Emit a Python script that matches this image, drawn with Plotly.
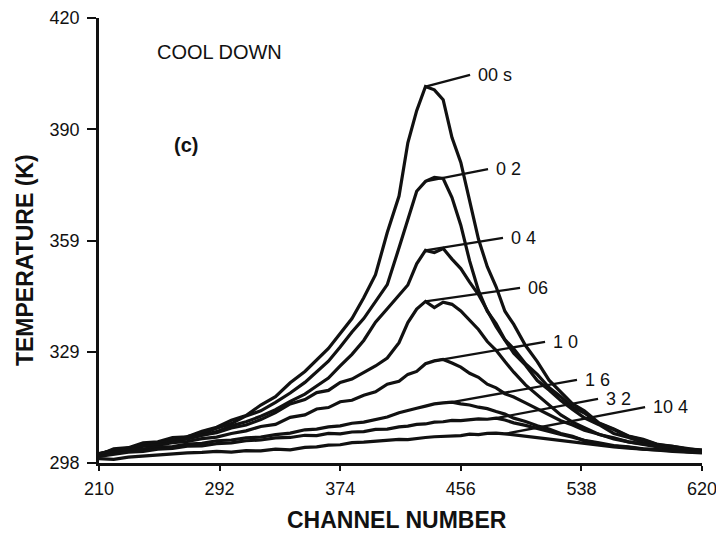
import plotly.graph_objects as go

# Channel grid shared by all curves
channel = [210, 220, 230, 240, 250, 260, 270, 280, 290, 300, 310, 320, 330, 340, 350,
           358, 366, 374, 382, 390, 398, 406, 414,
           420, 426, 432, 438, 444, 450, 456, 462, 468, 474, 480, 486, 492,
           500, 508, 516, 524, 532, 540,
           550, 560, 570, 580, 590, 600, 610, 620]

t_00 = [300.2, 301.9, 302.2, 303.5, 303.8, 305.0, 305.2, 306.7, 307.8, 309.7, 311.0, 313.9, 316.2, 320.0, 323.1,
        326.4, 329.4, 333.5, 337.6, 343.3, 349.6, 361.2, 371.2,
        385.8, 394.6, 401.2, 400.3, 397.6, 387.2, 380.4, 370.1, 359.4, 351.8, 346.3, 339.6, 336.0,
        330.2, 325.8, 320.7, 317.3, 314.2, 312.3,
        309.0, 307.3, 305.4, 304.5, 303.1, 302.6, 301.8, 301.6]
t_02 = [300.6, 301.5, 302.1, 302.9, 303.6, 304.2, 305.1, 306.2, 307.5, 308.8, 310.9, 312.3, 314.6, 317.2, 320.1,
        323.0, 325.9, 329.8, 333.9, 337.6, 342.4, 346.9, 357.0,
        364.8, 372.5, 375.2, 376.3, 376.0, 370.8, 363.2, 353.4, 345.3, 339.6, 336.2, 331.8, 329.3,
        325.2, 322.3, 318.7, 316.2, 313.3, 311.7,
        308.8, 307.2, 305.3, 304.3, 303.0, 302.6, 301.9, 301.4]
t_04 = [300.3, 301.3, 301.8, 302.7, 303.1, 304.1, 304.7, 305.7, 306.6, 308.2, 309.3, 310.8, 312.6, 314.9, 316.9,
        319.1, 321.3, 324.6, 327.8, 331.6, 336.6, 340.3, 343.9,
        346.8, 352.6, 356.3, 355.7, 356.8, 353.9, 351.3, 347.6, 344.2, 339.8, 335.4, 331.7, 328.1,
        324.8, 320.6, 318.0, 315.1, 312.7, 310.4,
        308.5, 306.1, 305.0, 303.6, 302.9, 302.1, 301.8, 301.2]
t_06 = [300.4, 301.6, 302.0, 303.1, 303.4, 304.2, 304.6, 305.6, 306.3, 307.6, 308.4, 309.9, 311.8, 314.2, 315.4,
        317.3, 317.9, 320.1, 321.0, 322.9, 324.6, 326.8, 331.0,
        336.5, 340.2, 342.3, 340.6, 342.1, 341.5, 339.7, 337.0, 334.6, 331.3, 328.9, 325.8, 322.9,
        319.4, 316.6, 314.0, 311.2, 309.2, 307.6,
        305.8, 304.9, 303.8, 303.2, 302.5, 302.0, 301.6, 301.3]
t_10 = [300.6, 301.3, 301.7, 302.6, 302.9, 303.6, 303.9, 304.7, 305.1, 306.1, 306.8, 308.0, 308.6, 310.5, 311.2,
        312.8, 313.2, 314.8, 315.2, 316.6, 317.5, 319.6, 320.4,
        322.3, 323.1, 325.2, 326.0, 326.4, 325.4, 324.3, 322.6, 321.5, 319.6, 318.6, 317.0, 316.1,
        314.5, 312.9, 311.2, 309.6, 308.4, 307.0,
        305.9, 304.6, 303.8, 303.0, 302.4, 302.0, 301.6, 301.2]
t_16 = [300.3, 300.9, 301.6, 301.8, 302.4, 302.5, 303.2, 303.4, 304.1, 304.3, 304.9, 305.1, 305.8, 306.2, 307.1,
        307.3, 307.9, 308.2, 308.9, 309.2, 309.9, 310.6, 311.8,
        312.3, 313.0, 313.6, 314.2, 314.5, 314.7, 314.2, 313.9, 313.3, 312.9, 312.1, 311.4, 310.3,
        309.4, 308.2, 307.3, 306.1, 305.3, 304.1,
        303.3, 302.6, 302.3, 301.8, 301.6, 301.3, 301.1, 300.9]
t_32 = [299.8, 300.5, 301.0, 301.2, 301.8, 302.0, 302.6, 302.7, 303.3, 303.5, 304.1, 304.3, 304.9, 305.0, 305.6,
        305.5, 306.1, 306.0, 306.5, 306.6, 307.2, 307.3, 307.9,
        308.1, 308.6, 308.7, 309.2, 309.3, 309.7, 309.6, 309.9, 310.1, 310.0, 310.3, 309.8, 309.0,
        308.3, 307.4, 306.7, 305.8, 305.1, 304.2,
        303.5, 302.8, 302.4, 301.9, 301.7, 301.3, 301.1, 300.9]
t_104 = [299.2, 299.0, 299.6, 299.9, 300.4, 300.6, 300.8, 300.9, 301.2, 301.0, 301.4, 301.3, 301.8, 301.6, 302.3,
         302.4, 302.9, 303.0, 303.6, 303.7, 304.0, 304.1, 304.5,
         304.4, 304.8, 305.0, 305.2, 305.3, 305.6, 305.5, 305.9, 305.8, 306.1, 306.2, 306.0, 305.7,
         305.3, 304.9, 304.4, 304.0, 303.6, 303.2,
         302.8, 302.4, 302.1, 301.7, 301.5, 301.2, 301.0, 300.8]

series = [t_00, t_02, t_04, t_06, t_10, t_16, t_32, t_104]
labels = ["00 s", "0 2", "0 4", "06", "1 0", "1 6", "3 2", "10 4"]
leader_start_x = [432, 432, 432, 432, 438, 450, 480, 486]
leader_end_x = [462.3, 474.5, 484.7, 496.3, 513.3, 535.0, 549.3, 581.3]
leader_end_y = [404.4, 378.6, 359.7, 346.0, 331.2, 320.8, 315.6, 313.3]

x_ticks = [210, 292, 374, 456, 538, 620]
y_ticks = [298, 328.5, 359, 389.5, 420]
y_tick_text = ["298", "329", "359", "390", "420"]

FONT = "Liberation Sans, Arial, Helvetica, sans-serif"
INK = "#111111"

fig = go.Figure()
for s in series:
    fig.add_trace(go.Scatter(x=channel, y=s, mode="lines",
                             line=dict(color=INK, width=3.2), showlegend=False,
                             hoverinfo="skip"))

annotations = []
for lab, sx, ex, ey, s in zip(labels, leader_start_x, leader_end_x, leader_end_y, series):
    sy = s[channel.index(sx)]
    fig.add_trace(go.Scatter(x=[sx, ex], y=[sy, ey], mode="lines",
                             line=dict(color=INK, width=2.3), showlegend=False,
                             hoverinfo="skip"))
    annotations.append(dict(x=ex + 4, y=ey, xref="x", yref="y", text=lab,
                            showarrow=False, xanchor="left", yanchor="middle",
                            font=dict(family=FONT, size=18, color=INK)))

annotations += [
    dict(x=248, y=410.7, xref="x", yref="y", text="COOL DOWN", showarrow=False,
         xanchor="left", yanchor="middle", font=dict(family=FONT, size=20, color=INK)),
    dict(x=259.6, y=385.2, xref="x", yref="y", text="<b>(c)</b>", showarrow=False,
         xanchor="left", yanchor="middle", font=dict(family=FONT, size=20, color=INK)),
    dict(x=-0.1227, y=0.456, xref="paper", yref="paper", text="<b>TEMPERATURE (K)</b>",
         showarrow=False, textangle=-90, xanchor="center", yanchor="middle",
         font=dict(family=FONT, size=23, color=INK)),
    dict(x=0.494, y=-0.128, xref="paper", yref="paper", text="<b>CHANNEL NUMBER</b>",
         showarrow=False, xanchor="center", yanchor="middle",
         font=dict(family=FONT, size=23, color=INK)),
]

fig.update_layout(
    width=716, height=533,
    margin=dict(l=99, r=14, t=18, b=70, autoexpand=False),
    paper_bgcolor="white", plot_bgcolor="white",
    annotations=annotations,
    xaxis=dict(range=[210, 620], tickvals=x_ticks, showgrid=False, zeroline=False,
               showline=True, linecolor=INK, linewidth=2.5, automargin=False,
               ticks="outside", ticklen=5, tickwidth=2, tickcolor=INK,
               ticklabelstandoff=3, ticklabeloverflow="allow",
               tickfont=dict(family=FONT, size=18, color=INK)),
    yaxis=dict(range=[298, 420], tickvals=y_ticks, ticktext=y_tick_text,
               showgrid=False, zeroline=False, automargin=False,
               showline=True, linecolor=INK, linewidth=2.5,
               ticks="outside", ticklen=9, tickwidth=2, tickcolor=INK,
               ticklabelstandoff=4,
               tickfont=dict(family=FONT, size=18, color=INK)),
)

fig.write_html("out.html")
